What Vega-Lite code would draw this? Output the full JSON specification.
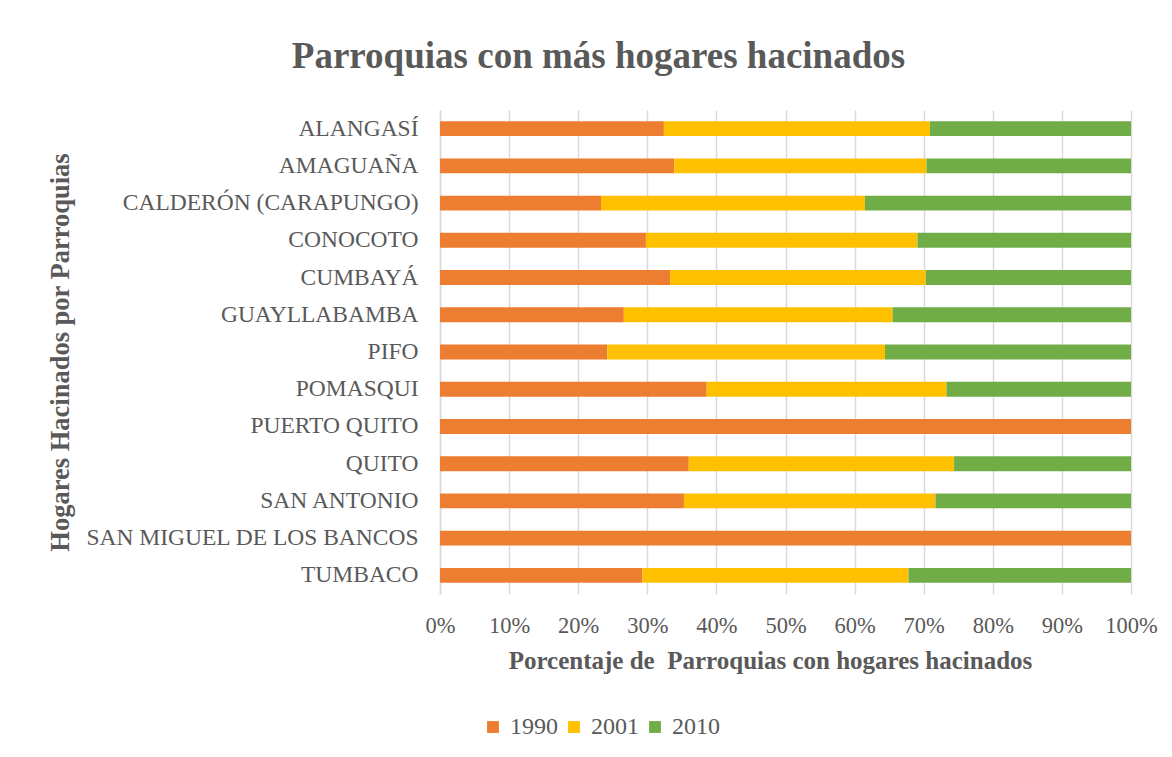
{
  "$schema": "https://vega.github.io/schema/vega-lite/v6.json",
  "width": 691,
  "height": 484,
  "autosize": {"type": "none"},
  "padding": {"left": 440, "top": 110, "right": 41, "bottom": 163},
  "background": "white",
  "title": {
    "text": "Parroquias con más hogares hacinados",
    "font": "Liberation Serif",
    "fontSize": 37,
    "fontWeight": "bold",
    "color": "#595959",
    "anchor": "middle",
    "frame": "group",
    "dx": -187,
    "offset": 34
  },
  "data": {
    "values": [
      {"parroquia": "ALANGASÍ", "anio": "1990", "valor": 32.4},
      {"parroquia": "ALANGASÍ", "anio": "2001", "valor": 38.5},
      {"parroquia": "ALANGASÍ", "anio": "2010", "valor": 29.1},
      {"parroquia": "AMAGUAÑA", "anio": "1990", "valor": 33.9},
      {"parroquia": "AMAGUAÑA", "anio": "2001", "valor": 36.5},
      {"parroquia": "AMAGUAÑA", "anio": "2010", "valor": 29.6},
      {"parroquia": "CALDERÓN (CARAPUNGO)", "anio": "1990", "valor": 23.3},
      {"parroquia": "CALDERÓN (CARAPUNGO)", "anio": "2001", "valor": 38.2},
      {"parroquia": "CALDERÓN (CARAPUNGO)", "anio": "2010", "valor": 38.5},
      {"parroquia": "CONOCOTO", "anio": "1990", "valor": 29.8},
      {"parroquia": "CONOCOTO", "anio": "2001", "valor": 39.3},
      {"parroquia": "CONOCOTO", "anio": "2010", "valor": 30.9},
      {"parroquia": "CUMBAYÁ", "anio": "1990", "valor": 33.3},
      {"parroquia": "CUMBAYÁ", "anio": "2001", "valor": 37.0},
      {"parroquia": "CUMBAYÁ", "anio": "2010", "valor": 29.7},
      {"parroquia": "GUAYLLABAMBA", "anio": "1990", "valor": 26.6},
      {"parroquia": "GUAYLLABAMBA", "anio": "2001", "valor": 38.9},
      {"parroquia": "GUAYLLABAMBA", "anio": "2010", "valor": 34.5},
      {"parroquia": "PIFO", "anio": "1990", "valor": 24.2},
      {"parroquia": "PIFO", "anio": "2001", "valor": 40.2},
      {"parroquia": "PIFO", "anio": "2010", "valor": 35.6},
      {"parroquia": "POMASQUI", "anio": "1990", "valor": 38.6},
      {"parroquia": "POMASQUI", "anio": "2001", "valor": 34.7},
      {"parroquia": "POMASQUI", "anio": "2010", "valor": 26.7},
      {"parroquia": "PUERTO QUITO", "anio": "1990", "valor": 100},
      {"parroquia": "PUERTO QUITO", "anio": "2001", "valor": 0},
      {"parroquia": "PUERTO QUITO", "anio": "2010", "valor": 0},
      {"parroquia": "QUITO ", "anio": "1990", "valor": 36.0},
      {"parroquia": "QUITO ", "anio": "2001", "valor": 38.4},
      {"parroquia": "QUITO ", "anio": "2010", "valor": 25.6},
      {"parroquia": "SAN ANTONIO", "anio": "1990", "valor": 35.3},
      {"parroquia": "SAN ANTONIO", "anio": "2001", "valor": 36.4},
      {"parroquia": "SAN ANTONIO", "anio": "2010", "valor": 28.3},
      {"parroquia": "SAN MIGUEL DE LOS BANCOS", "anio": "1990", "valor": 100},
      {"parroquia": "SAN MIGUEL DE LOS BANCOS", "anio": "2001", "valor": 0},
      {"parroquia": "SAN MIGUEL DE LOS BANCOS", "anio": "2010", "valor": 0},
      {"parroquia": "TUMBACO", "anio": "1990", "valor": 29.3},
      {"parroquia": "TUMBACO", "anio": "2001", "valor": 38.5},
      {"parroquia": "TUMBACO", "anio": "2010", "valor": 32.2}
    ]
  },
  "mark": {"type": "bar"},
  "encoding": {
    "y": {
      "field": "parroquia",
      "type": "nominal",
      "sort": ["ALANGASÍ", "AMAGUAÑA", "CALDERÓN (CARAPUNGO)", "CONOCOTO", "CUMBAYÁ", "GUAYLLABAMBA", "PIFO", "POMASQUI", "PUERTO QUITO", "QUITO ", "SAN ANTONIO", "SAN MIGUEL DE LOS BANCOS", "TUMBACO"],
      "scale": {"paddingInner": 0.6, "paddingOuter": 0.3},
      "axis": {
        "title": "Hogares Hacinados por Parroquias",
        "titleFont": "Liberation Serif",
        "titleFontSize": 26.5,
        "titleFontWeight": "bold",
        "titleColor": "#595959",
        "titleX": -380,
        "titleY": 242,
        "titleAngle": 270,
        "titleAlign": "center",
        "titleBaseline": "middle",
        "labelFont": "Liberation Serif",
        "labelFontSize": 23.5,
        "labelColor": "#595959",
        "labelPadding": 22,
        "labelLimit": 500,
        "ticks": false,
        "domain": true,
        "domainColor": "#d9d9d9",
        "domainWidth": 1.5,
        "grid": false
      }
    },
    "x": {
      "field": "valor",
      "type": "quantitative",
      "stack": "normalize",
      "scale": {"domain": [0, 1], "nice": false},
      "axis": {
        "title": "Porcentaje de \u00a0Parroquias con hogares hacinados",
        "titleFont": "Liberation Serif",
        "titleFontSize": 25,
        "titleFontWeight": "bold",
        "titleColor": "#595959",
        "titleX": 330,
        "titleY": 74,
        "titleBaseline": "alphabetic",
        "format": ".0%",
        "values": [0, 0.1, 0.2, 0.3, 0.4, 0.5, 0.6, 0.7, 0.8, 0.9, 1],
        "labelFont": "Liberation Serif",
        "labelFontSize": 22.5,
        "labelColor": "#595959",
        "labelBaseline": "alphabetic",
        "labelPadding": 38,
        "labelFlush": false,
        "ticks": false,
        "domain": false,
        "grid": true,
        "gridColor": "#d9d9d9",
        "gridWidth": 1.5
      }
    },
    "color": {
      "field": "anio",
      "type": "nominal",
      "scale": {"domain": ["1990", "2001", "2010"], "range": ["#ED7D31", "#FFC000", "#70AD47"]},
      "legend": {
        "title": null,
        "orient": "none",
        "direction": "horizontal",
        "legendX": 41,
        "legendY": 605,
        "symbolType": "square",
        "symbolSize": 140,
        "symbolStrokeWidth": 0,
        "labelFont": "Liberation Serif",
        "labelFontSize": 24,
        "labelColor": "#595959",
        "labelOffset": 5,
        "columnPadding": 4
      }
    },
    "order": {"field": "anio", "type": "nominal", "sort": "ascending"}
  },
  "config": {
    "view": {"stroke": null}
  }
}
